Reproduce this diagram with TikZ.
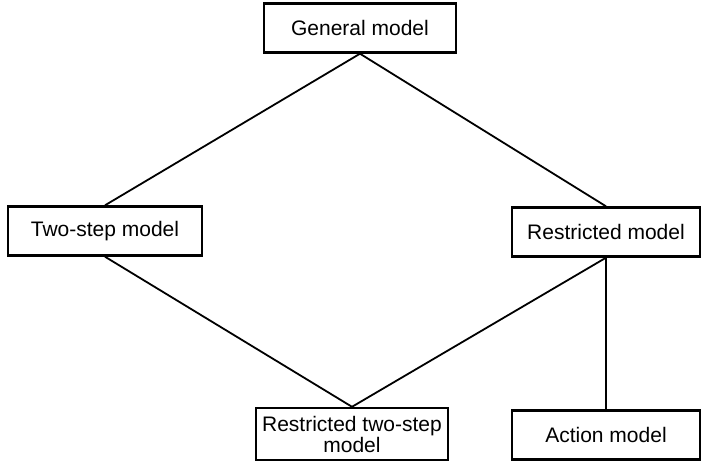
\documentclass[tikz,border=0pt]{standalone}
\usepackage{fontspec}
\setmainfont{Liberation Sans}
\usetikzlibrary{positioning}

\begin{document}
\begin{tikzpicture}[
  x=0.5pt,y=-0.5pt,
  box/.style={draw,line width=1.2pt,minimum height=24.5pt,align=center,inner sep=1pt,font=\fontsize{10.5}{10.5}\selectfont},
  link/.style={line width=0.9pt}
]
\useasboundingbox (0,0) rectangle (702,462);

\node[box,minimum width=96pt] (general)  at (360,28)  {General model};
\node[box,minimum width=97pt] (twostep)  at (105,231) {Two-step model};
\node[box,minimum width=94pt] (restr)    at (606,232) {Restricted model};
\node[box,minimum width=96pt,minimum height=26pt] (restrtwo) at (352,434) {Restricted two-step\\model};
\node[box,minimum width=94pt] (action)   at (606,435) {Action model};

% upper diamond edges
\draw[link] (general.south) -- (twostep.north);
\draw[link] (general.south) -- (restr.north);

% lower edges
\draw[link] (twostep.south) -- (restrtwo.north);
\draw[link] (restr.south) -- (restrtwo.north);
\draw[link] (restr.south) -- (action.north);

\end{tikzpicture}
\end{document}
